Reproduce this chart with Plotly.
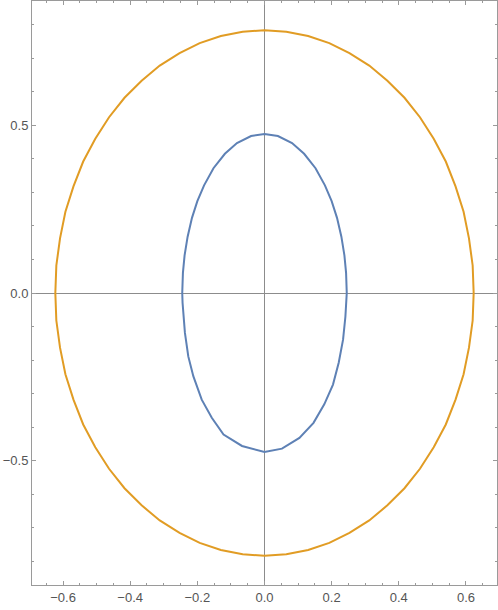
import plotly.graph_objects as go

# puntos (elipse exterior, naranja)
x_naranja = [0.0, 0.065, 0.130, 0.193, 0.253, 0.312, 0.366, 0.417, 0.463, 0.504, 0.540,
             0.569, 0.593, 0.609, 0.620, 0.623, 0.620, 0.609, 0.593, 0.569, 0.540,
             0.504, 0.463, 0.417, 0.366, 0.312, 0.253, 0.193, 0.130, 0.065, 0.0,
             -0.065, -0.130, -0.193, -0.253, -0.312, -0.366, -0.417, -0.463, -0.504, -0.540,
             -0.569, -0.593, -0.609, -0.620, -0.623, -0.620, -0.609, -0.593, -0.569, -0.540,
             -0.504, -0.463, -0.417, -0.366, -0.312, -0.253, -0.193, -0.130, -0.065, 0.0]
y_naranja = [0.783, 0.779, 0.766, 0.745, 0.715, 0.678, 0.633, 0.582, 0.524, 0.460, 0.392,
             0.318, 0.242, 0.163, 0.082, 0.0, -0.082, -0.163, -0.242, -0.318, -0.392,
             -0.460, -0.524, -0.582, -0.633, -0.678, -0.715, -0.745, -0.766, -0.779, -0.783,
             -0.779, -0.766, -0.745, -0.715, -0.678, -0.633, -0.582, -0.524, -0.460, -0.392,
             -0.318, -0.242, -0.163, -0.082, 0.0, 0.082, 0.163, 0.242, 0.318, 0.392,
             0.460, 0.524, 0.582, 0.633, 0.678, 0.715, 0.745, 0.766, 0.779, 0.783]

# elipse interior (azul)
x_azul = [0.245, 0.243, 0.238, 0.229, 0.216, 0.200, 0.180, 0.152, 0.118, 0.082, 0.040, 0.0,
          -0.040, -0.082, -0.118, -0.152, -0.180, -0.200, -0.216, -0.229, -0.238, -0.243, -0.245,
          -0.244, -0.237, -0.227, -0.212, -0.187, -0.157, -0.122, -0.067, 0.0,
          0.052, 0.104, 0.146, 0.178, 0.204, 0.221, 0.234, 0.241, 0.245]
y_azul = [0.0, 0.060, 0.112, 0.168, 0.224, 0.274, 0.321, 0.372, 0.415, 0.447, 0.468, 0.474,
          0.468, 0.447, 0.415, 0.372, 0.321, 0.274, 0.224, 0.168, 0.112, 0.060, 0.0,
          -0.030, -0.119, -0.189, -0.248, -0.318, -0.372, -0.422, -0.456, -0.474,
          -0.464, -0.432, -0.387, -0.332, -0.273, -0.208, -0.139, -0.070, 0.0]

fig = go.Figure()
fig.add_trace(go.Scatter(x=x_azul, y=y_azul, mode='lines',
                         line=dict(color='#5E81B5', width=2), hoverinfo='skip'))
fig.add_trace(go.Scatter(x=x_naranja, y=y_naranja, mode='lines',
                         line=dict(color='#E19C24', width=2), hoverinfo='skip'))

eje = dict(
    showgrid=False,
    zeroline=True, zerolinecolor='#8c8c8c', zerolinewidth=1,
    showline=True, linecolor='#9a9a9a', linewidth=1, mirror='allticks',
    ticks='inside', ticklen=4, tickcolor='#9a9a9a', tickwidth=1,
    tickformat='.1f',
    tickfont=dict(family='Liberation Sans', size=13, color='#555555'),
)

fig.update_layout(
    width=498, height=610,
    paper_bgcolor='white', plot_bgcolor='white',
    showlegend=False,
    margin=dict(l=32, r=1, t=1, b=25),
    xaxis=dict(eje, range=[-0.6925, 0.6925], dtick=0.2, tick0=0,
               minor=dict(dtick=0.05, ticks='inside', ticklen=2, tickcolor='#9a9a9a')),
    yaxis=dict(eje, range=[-0.8705, 0.8705], dtick=0.5, tick0=0,
               minor=dict(dtick=0.1, ticks='inside', ticklen=2, tickcolor='#9a9a9a')),
)

# quitar el margen del body para que el grafico quede en la esquina
fig.write_html("out.html", config={'displayModeBar': False},
               post_script="document.body.style.margin='0px';")
